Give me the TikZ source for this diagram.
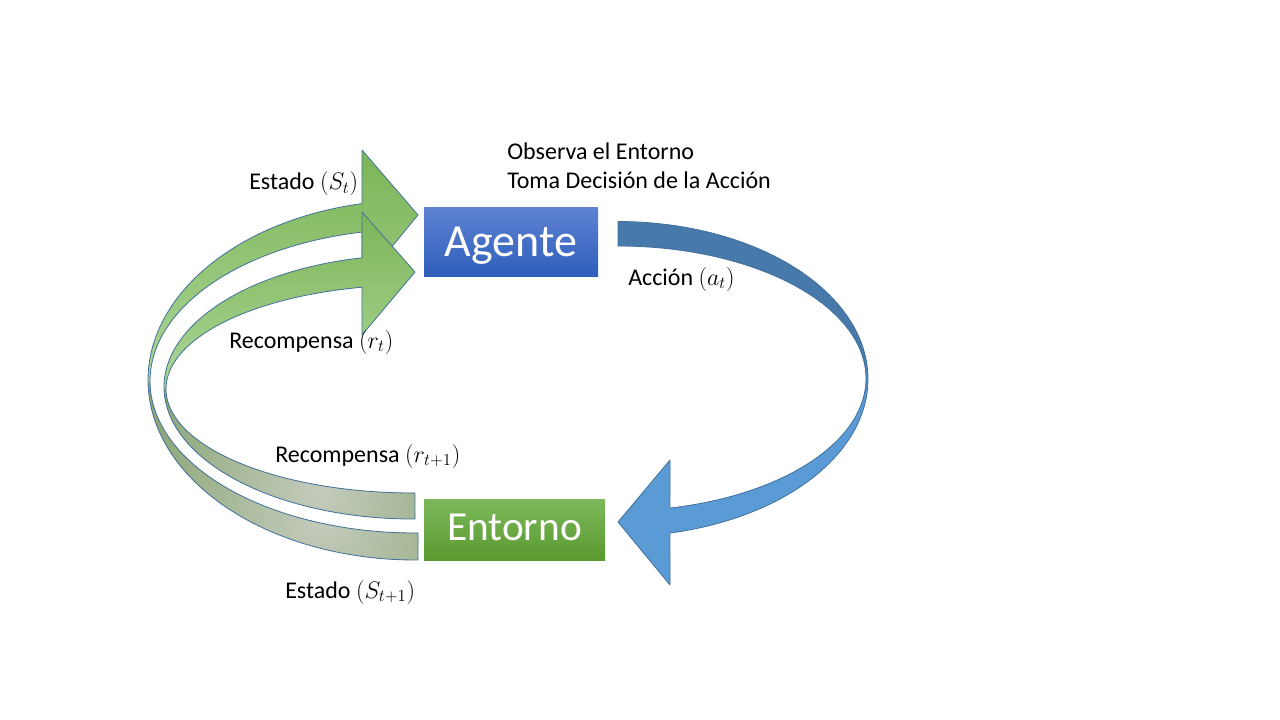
\RequirePackage{fix-cm}
\documentclass[tikz,border=0pt]{standalone}
\usepackage{fontspec}
\setmainfont{Carlito}
\definecolor{agtop}{RGB}{94,130,210}
\definecolor{agbot}{RGB}{46,94,186}
\definecolor{entop}{RGB}{124,184,90}
\definecolor{enbot}{RGB}{90,154,48}
\definecolor{bluedark}{RGB}{71,122,171}
\definecolor{bluelight}{RGB}{91,155,213}
\definecolor{edge}{RGB}{65,113,156}
\definecolor{gtop}{RGB}{122,180,86}
\definecolor{gbot}{RGB}{172,213,150}
\definecolor{gleft}{RGB}{140,166,118}
\definecolor{gmid}{RGB}{196,203,188}
\tikzset{
  box/.style={draw=none, inner sep=0pt, text=white, text depth=0pt},
  lbl/.style={anchor=base west, inner sep=0pt, font=\fontsize{18}{21.6}\selectfont},
  arrowedge/.style={draw=edge, line width=0.6pt, line join=round},
}
\begin{document}
\begin{tikzpicture}[x=0.75pt,y=-0.75pt]
\useasboundingbox (0,0) rectangle (1280,720);
\def\bluepath{plot[domain=-90:78, samples=100] ({618+250*cos(\x)},{379+157.5*sin(\x)}) -- (670,585) -- (618,522) -- (670,460) -- plot[domain=77.9:-90, samples=100] ({618+248*cos(\x)},{378.5+132.5*sin(\x)}) -- cycle}
\def\gouterpath{plot[domain=89.36:258.55, samples=120] ({415+267*cos(\x)},{380+180*sin(\x)}) -- (362,150) -- (418,215) -- (362,283) -- plot[domain=258.46:89.35, samples=120] ({415+265*cos(\x)},{381+152*sin(\x)}) -- cycle}
\def\ginnerpath{plot[domain=89.54:258.18, samples=120] ({413+249*cos(\x)},{387+132*sin(\x)}) -- (362,212) -- (415,272) -- (362,335) -- plot[domain=258.08:89.54, samples=120] ({413+247*cos(\x)},{389+104*sin(\x)}) -- cycle}
% blue action arrow
\begin{scope}
  \clip \bluepath;
  \fill[bluedark] (600,200) rectangle (880,355);
  \shade[top color=bluedark, bottom color=bluelight] (600,355) rectangle (880,405);
  \fill[bluelight] (600,405) rectangle (880,600);
\end{scope}
\draw[arrowedge] \bluepath;
% outer green arrow (Estado)
\begin{scope}
  \clip \gouterpath;
  \shade[top color=gtop, bottom color=gbot] (130,145) rectangle (430,382);
  \clip (130,382) rectangle (440,570);
  \fill[gleft] (130,382) rectangle (440,570);
  \shade[inner color=gmid, outer color=gleft] (320,520) circle[radius=190];
\end{scope}
\draw[arrowedge] \gouterpath;
% inner green arrow (Recompensa)
\begin{scope}
  \clip \ginnerpath;
  \shade[top color=gtop, bottom color=gbot] (140,205) rectangle (430,388);
  \clip (140,388) rectangle (440,530);
  \fill[gleft] (140,388) rectangle (440,530);
  \shade[inner color=gmid, outer color=gleft] (320,490) circle[radius=180];
\end{scope}
\draw[arrowedge] \ginnerpath;
% boxes
\node[box, top color=agtop, bottom color=agbot, minimum width=130.5pt, minimum height=51pt,
      text height=22.5pt, font=\fontsize{34.5}{40}\selectfont] (agente) at (511,242) {Agente};
\node[box, top color=entop, bottom color=enbot, minimum width=135.75pt, minimum height=45.75pt,
      text height=15.75pt, font=\fontsize{31}{36}\selectfont] (entorno) at (514.5,529.5) {Entorno};
% labels
\node[lbl] (obs1) at (507,160) {Observa el Entorno};
\node[lbl] (obs2) at (507,189) {Toma Decisión de la Acción};
\node[lbl] (accion) at (628,285) {Acción \((a_t)\)};
\node[lbl] (estadoT) at (249,190) {Estado \((S_t)\)};
\node[lbl] (recompT) at (229,348) {Recompensa \((r_t)\)};
\node[lbl] (recompT1) at (275,462) {Recompensa \((r_{t+1})\)};
\node[lbl] (estadoT1) at (285,598) {Estado \((S_{t+1})\)};
\end{tikzpicture}
\end{document}
